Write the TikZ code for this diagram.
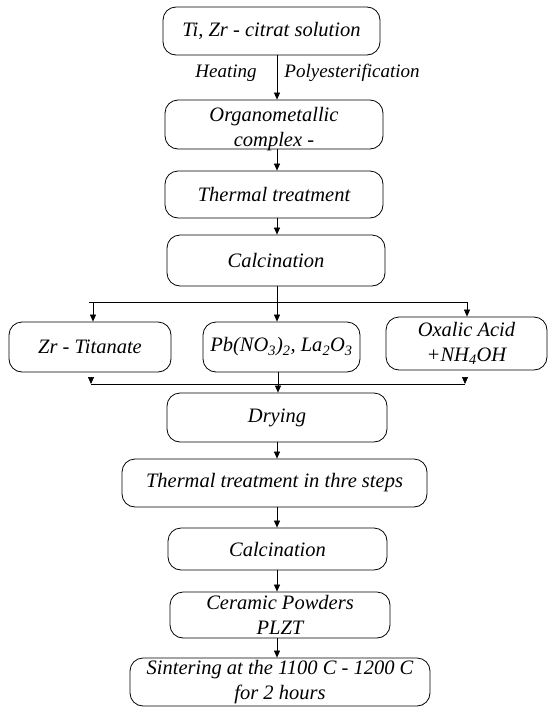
\documentclass[tikz,border=0pt]{standalone}
\usepackage{fontspec}
\setmainfont{Liberation Serif}
\usetikzlibrary{arrows.meta}
\begin{document}
\begin{tikzpicture}[x=1pt,y=-1pt,
  box/.style={draw, rounded corners=13pt, line width=0.8pt, inner sep=0pt, align=center,
    font=\fontsize{20.5}{25}\selectfont\itshape},
  txt/.style={inner sep=0pt, align=center, font=\fontsize{20.5}{25}\selectfont\itshape},
  lbl/.style={inner sep=0pt, font=\fontsize{19}{23}\selectfont\itshape},
  arr/.style={-{Triangle[length=7pt,width=6pt]}, line width=0.7pt},
  ln/.style={line width=0.7pt}]
\useasboundingbox (0,0) rectangle (548,707);
% main column
\node[box, minimum width=217pt, minimum height=48pt] (b1) at (271.5,31) {Ti, Zr - citrat solution};
\node[box, minimum width=218pt, minimum height=49pt] (b2) at (274,124.5) {};
\node[txt] (t2) at (274,129.5) {Organometallic\\complex -};
\node[box, minimum width=218pt, minimum height=47pt] (b3) at (274,194.5) {Thermal treatment};
\node[box, minimum width=218pt, minimum height=51pt] (b4) at (276,260.5) {Calcination};
% three branches
\node[box, minimum width=162pt, minimum height=50pt] (zr) at (90,347) {Zr - Titanate};
\node[box, minimum width=157pt, minimum height=50pt] (pb) at (281.5,347) {Pb(NO\textsubscript{3})\textsubscript{2}, La\textsubscript{2}O\textsubscript{3}};
\node[box, minimum width=161pt, minimum height=53pt] (ox) at (466.5,343.5) {Oxalic Acid\\+NH\textsubscript{4}OH};
% lower column
\node[box, minimum width=220pt, minimum height=49pt] (dr) at (277,417.5) {Drying};
\node[box, minimum width=305pt, minimum height=48pt] (tt) at (274.5,483) {Thermal treatment in thre steps};
\node[box, minimum width=219pt, minimum height=42pt] (c2) at (277.5,549) {Calcination};
\node[box, minimum width=220pt, minimum height=46pt] (ce) at (280,615) {Ceramic Powders\\PLZT};
\node[box, minimum width=300pt, minimum height=48pt] (si) at (280,682) {Sintering at the 1100 C - 1200 C\\for 2 hours};
% labels
\node[lbl] (lh) at (226,73) {Heating};
\node[lbl] (lp) at (352,73) {Polyesterification};
% connectors
\coordinate (sx) at (277,0);
\draw[arr] (b1.south -| sx) -- (b2.north -| sx);
\draw[arr] (b2.south -| sx) -- (b3.north -| sx);
\draw[arr] (b3.south -| sx) -- (b4.north -| sx);
% split line
\coordinate (hl) at (89,302);
\coordinate (hr) at (468,302);
\draw[ln] (hl) -- (hr);
\draw[arr] (93,302) -- (zr.north -| 93,0);
\draw[arr] (b4.south -| sx) -- (pb.north -| sx);
\draw[arr] (467,302) -- (ox.north -| 467,0);
% merge line
\coordinate (ml) at (91,384);
\coordinate (mr) at (465,384);
\draw[ln] (ml) -- (mr);
\draw[arr] (91,377) -- (ml);
\draw[arr] (465,377) -- (mr);
\coordinate (mx) at (278,0);
\draw[arr] (pb.south -| mx) -- (dr.north -| mx);
\draw[arr] (dr.south -| sx) -- (tt.north -| sx);
\draw[arr] (tt.south -| sx) -- (c2.north -| sx);
\draw[arr] (c2.south -| sx) -- (ce.north -| sx);
\draw[arr] (ce.south -| sx) -- (si.north -| sx);
\end{tikzpicture}
\end{document}
